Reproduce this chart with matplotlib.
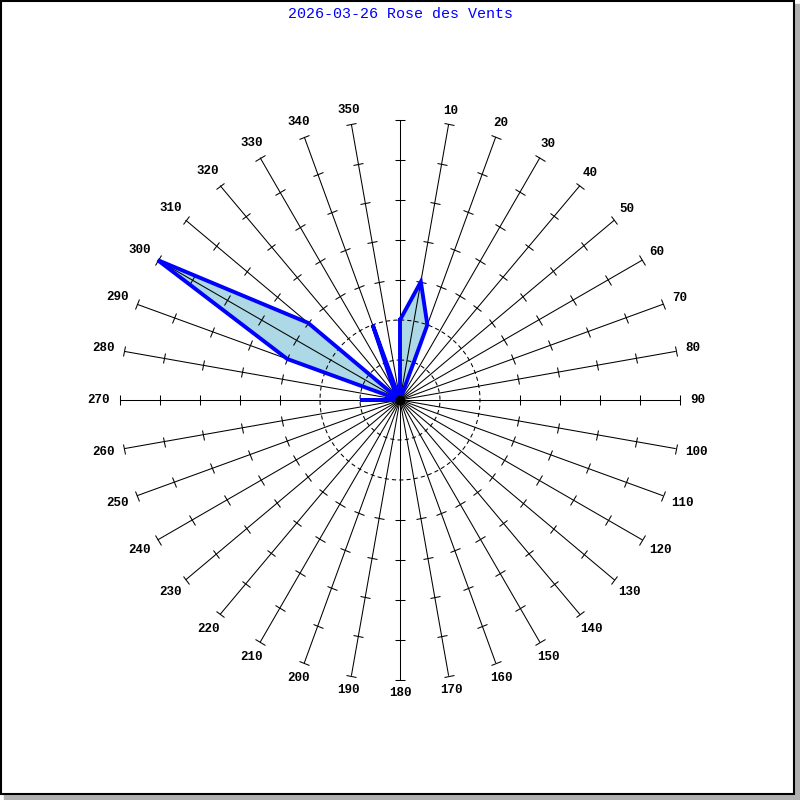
import numpy as np
import matplotlib.pyplot as plt
from matplotlib.markers import MarkerStyle
from matplotlib.transforms import Affine2D
from matplotlib.patches import Rectangle

# Donnees : direction (degres) et longueur (en graduations, 1 graduation = 40 px)
directions = np.arange(0, 360, 10)
valeurs = [2, 3, 2, 0, 0, 0, 0, 0, 0,
           0, 0, 0, 0, 0, 0, 0, 0, 0,
           0, 0, 0, 0, 0, 0, 0, 0, 0,
           1, 0, 3, 7, 3, 0, 0.3, 2, 0]
etiquettes = [str(d) for d in directions]
titre = "2026-03-26 Rose des Vents"
rmax = 7
cercles = [1, 2]

fig = plt.figure(figsize=(8, 8), dpi=100)
# centre (400,400), rayon 280 px
ax = fig.add_axes([120 / 800, 120 / 800, 560 / 800, 560 / 800], projection='polar')
ax.set_theta_zero_location('N')
ax.set_theta_direction(-1)
ax.set_ylim(0, rmax)
ax.axis('off')

theta = np.deg2rad(directions)
th_poly = np.append(theta, theta[0])
r_poly = np.append(valeurs, valeurs[0])

# remplissage
ax.fill(th_poly, r_poly, color='#add8e6', zorder=1, lw=0)

# rayons et graduations
for d, th, lab in zip(directions, theta, etiquettes):
    ax.plot([th, th], [0, rmax], color='black', lw=0.75, zorder=2)
    m = MarkerStyle('_', transform=Affine2D().rotate_deg(-d))
    ax.plot([th] * 5, [3, 4, 5, 6, rmax], ls='none', marker=m, markersize=7.5,
            markeredgecolor='black', markeredgewidth=0.75, zorder=2, clip_on=False)
    if d != 0:
        # decalage selon la largeur du texte
        r_lab = (293 + (len(lab) * 3.8 - 3) * abs(np.sin(th))) / 40
        ax.text(th, r_lab, lab, ha='center', va='center',
                fontsize=9, fontweight='bold', family='Liberation Mono',
                clip_on=False)

# cercles pointilles
tt = np.linspace(0, 2 * np.pi, 300)
for c in cercles:
    ax.plot(tt, np.full_like(tt, c), color='black', lw=0.75, ls=(0, (4, 3)), zorder=2)

# contour bleu
ax.plot(th_poly, r_poly, color='#0000ff', lw=2.8, zorder=3, solid_joinstyle='miter')
ax.plot([0], [0], marker='o', markersize=6, color='black', zorder=4)

fig.text(0.5, 1 - 14 / 800, titre, color='#0000ff', ha='center', va='center',
         fontsize=10.8, family='Liberation Mono')

# cadre avec ombre
fig.add_artist(Rectangle((4 / 800, 0), 796 / 800, 6 / 800, transform=fig.transFigure,
                         color='#b0b0b0', zorder=0))
fig.add_artist(Rectangle((794 / 800, 0), 6 / 800, 796 / 800, transform=fig.transFigure,
                         color='#b0b0b0', zorder=0))
fig.add_artist(Rectangle((1 / 800, 6 / 800), 793 / 800, 793 / 800, transform=fig.transFigure,
                         fill=False, edgecolor='black', lw=1.5))

plt.savefig("out.png", dpi=100)
